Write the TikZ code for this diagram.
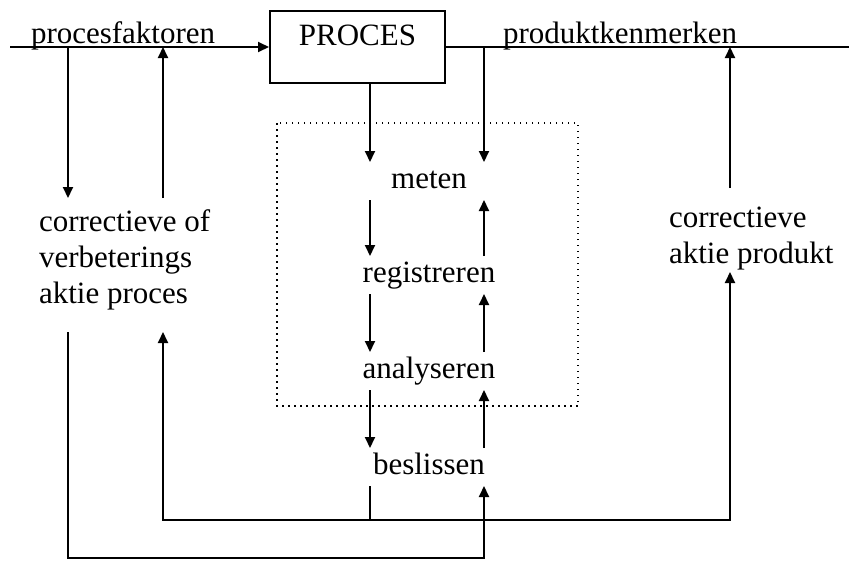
\documentclass[tikz,border=0pt]{standalone}
\usepackage{fontspec}
\setmainfont{Liberation Serif}
\usetikzlibrary{arrows.meta}

\tikzset{
  arr/.style={-{Triangle[length=11pt,width=10pt]}},
  txt/.style={inner sep=0pt, font=\fontsize{31}{36}\selectfont},
  procbox/.style={draw, txt, minimum width=175pt, text height=34pt, text depth=38pt},
  act/.style={txt, inner ysep=4pt, text height=21pt, text depth=7pt},
  frame/.style={line width=1.5pt, dash pattern=on 1.5pt off 4.5pt},
}

\begin{document}
\begin{tikzpicture}[x=1pt, y=-1pt, line width=2pt]
\useasboundingbox (0,0) rectangle (849,560);

\def\topy {47}
\coordinate (L) at (370,0);
\coordinate (R) at (484,0);

% process and top line
\node[procbox, anchor=base] (proces) at (357.5,45) {PROCES};
\node[txt, anchor=base west] (pfakt) at (30,43) {procesfaktoren};
\node[txt, anchor=base west] (pkenm) at (502,43) {produktkenmerken};

\coordinate (pfStart) at (10,\topy);
\coordinate (pkEnd) at (849,\topy);
\coordinate (pfDown) at (68,\topy);
\coordinate (pfUp) at (163,\topy);
\coordinate (pkDown) at (484,\topy);
\coordinate (pkUp) at (730,\topy);

\draw[arr] (pfStart) -- (proces.west);
\draw (proces.east) -- (pkEnd);

% measuring loop
\node[act, anchor=base] (meten) at (429,188) {meten};
\node[act, anchor=base] (registreren) at (429,282) {registreren};
\node[act, anchor=base] (analyseren) at (429,378) {analyseren};
\node[act, anchor=base] (beslissen) at (429,474) {beslissen};

\draw[frame] (277,123) rectangle (578,406);

\draw[arr] (L |- proces.south) -- (L |- meten.north);
\draw[arr] (pkDown) -- (R |- meten.north);
\foreach \a/\b in {meten/registreren, registreren/analyseren, analyseren/beslissen}
{
  \draw[arr] (L |- \a.south) -- (L |- \b.north);
  \draw[arr] (R |- \b.north) -- (R |- \a.south);
}

% corrective actions
\node[txt, align=left, anchor=north west] (cproc) at (38,209) {correctieve of\\verbeterings\\aktie proces};
\node[txt, align=left, anchor=north west] (cprod) at (668,206) {correctieve\\aktie produkt};

\coordinate (cpTop) at (0,198);
\coordinate (cpBot) at (0,332);
\coordinate (ckTop) at (0,188);
\coordinate (ckBot) at (0,272);
\coordinate (innerY) at (0,520);
\coordinate (outerY) at (0,558);

\draw[arr] (pfDown) -- (pfDown |- cpTop);
\draw[arr] (pfUp |- cpTop) -- (pfUp);
\draw[arr] (pkUp |- ckTop) -- (pkUp);

% feedback from beslissen
\draw (L |- beslissen.south) -- (L |- innerY);
\draw[arr] (L |- innerY) -| (pfUp |- cpBot);
\draw[arr] (L |- innerY) -| (pkUp |- ckBot);
\draw[arr] (pfDown |- cpBot) |- (R |- outerY) -- (R |- beslissen.south);
\end{tikzpicture}
\end{document}
